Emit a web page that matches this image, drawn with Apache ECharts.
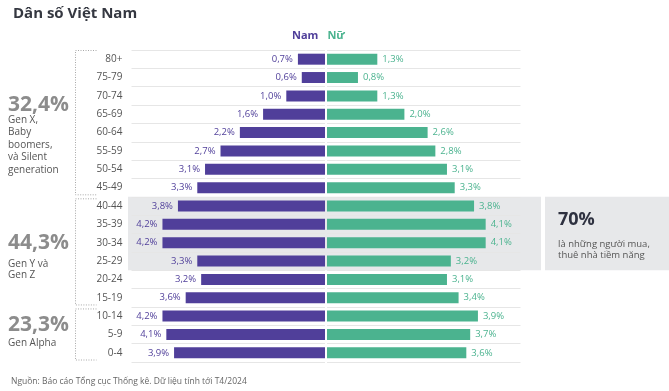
<!DOCTYPE html>
<html><head><meta charset="utf-8">
<script src="https://cdn.jsdelivr.net/npm/echarts@6/dist/echarts.min.js"></script>
<style>html,body{margin:0;padding:0;background:#fff}#c{width:669px;height:391px}</style>
</head><body><div id="c"></div>
<script>
var categories = ['80+','75-79','70-74','65-69','60-64','55-59','50-54','45-49','40-44','35-39','30-34','25-29','20-24','15-19','10-14','5-9','0-4'];
var male   = [0.7,0.6,1.0,1.6,2.2,2.7,3.1,3.3,3.8,4.2,4.2,3.3,3.2,3.6,4.2,4.1,3.9];
var female = [1.3,0.8,1.3,2.0,2.6,2.8,3.1,3.3,3.8,4.1,4.1,3.2,3.1,3.4,3.9,3.7,3.6];
var groups = [
  {from:'80+', to:'45-49', pct:'32,4%', text:'Gen X,\nBaby\nboomers,\nvà Silent\ngeneration'},
  {from:'40-44', to:'15-19', pct:'44,3%', text:'Gen Y và\nGen Z'},
  {from:'10-14', to:'0-4', pct:'23,3%', text:'Gen Alpha'}
];
var highlight = {from:'40-44', to:'25-29'};
var PURPLE = '#503f9a', GREEN = '#4bb38f';
var FONT = '"Open Sans", "Noto Sans", sans-serif';
function fmt(p){ return p.value.toFixed(1).replace('.', ',') + '%'; }

var chart = echarts.init(document.getElementById('c'));
var option = {
  animation:false,
  textStyle:{fontFamily:FONT},
  title:{text:'Dân số Việt Nam', left:8, top:1, textStyle:{fontSize:15, fontWeight:'bold', color:'#353841', fontFamily:FONT}},
  legend:{left:282, top:24, icon:'none', itemWidth:0, itemGap:4, selectedMode:false,
    data:[{name:'Nam', textStyle:{color:PURPLE}},{name:'Nữ', textStyle:{color:GREEN}}],
    textStyle:{fontSize:11, fontWeight:'bold', fontFamily:FONT}},
  grid:[
    {left:131.5, right:344, top:50, bottom:29},
    {left:327, right:148.5, top:50, bottom:29}
  ],
  xAxis:[
    {gridIndex:0, type:'value', min:0, max:5, inverse:true, show:false},
    {gridIndex:1, type:'value', min:0, max:5, show:false}
  ],
  yAxis:[
    {gridIndex:0, type:'category', data:categories, inverse:true,
     axisLine:{show:false}, axisTick:{show:false},
     axisLabel:{margin:9, fontSize:10, color:'#555', fontFamily:FONT},
     splitLine:{show:true, lineStyle:{color:'#e6e6e6', width:1}}},
    {gridIndex:1, type:'category', data:categories, inverse:true,
     axisLine:{show:false}, axisTick:{show:false}, axisLabel:{show:false},
     splitLine:{show:true, lineStyle:{color:'#e6e6e6', width:1}}}
  ],
  series:[
    {name:'Nam', type:'bar', xAxisIndex:0, yAxisIndex:0, data:male, barWidth:11, itemStyle:{color:PURPLE},
     label:{show:true, position:'left', distance:5, formatter:fmt, color:PURPLE, fontSize:9.5, fontFamily:FONT}},
    {name:'Nữ', type:'bar', xAxisIndex:1, yAxisIndex:1, data:female, barWidth:11, itemStyle:{color:GREEN},
     label:{show:true, position:'right', distance:5, formatter:fmt, color:GREEN, fontSize:9.5, fontFamily:FONT}}
  ]
};
chart.setOption(option);

var y0 = chart.convertToPixel({yAxisIndex:0}, categories[0]);
var y1 = chart.convertToPixel({yAxisIndex:0}, categories[1]);
var band = y1 - y0;
function topOf(c){ return chart.convertToPixel({yAxisIndex:0}, c) - band/2; }
function botOf(c){ return chart.convertToPixel({yAxisIndex:0}, c) + band/2; }

var g = [];
var hTop = topOf(highlight.from), hBot = botOf(highlight.to);
g.push({type:'rect', z:-10, shape:{x:128, y:hTop, width:541-128, height:hBot-hTop}, style:{fill:'#e7e8ea'}});
g.push({type:'rect', z:-10, shape:{x:545, y:hTop, width:669-545, height:hBot-hTop}, style:{fill:'#e7e8ea'}});
var my = (hTop + hBot)/2;
g.push({type:'text', x:558, y:my-14, style:{text:'70%', font:'bold 18px '+FONT, fill:'#2e3140', textVerticalAlign:'middle'}});
g.push({type:'text', x:558, y:my+5, style:{text:'là những người mua,\nthuê nhà tiềm năng', font:'9.5px '+FONT, fill:'#555', lineHeight:11, textVerticalAlign:'top'}});

groups.forEach(function(gr, i){
  var t = topOf(gr.from) + (i === 0 ? 0 : 1.5);
  var b = botOf(gr.to) - 1.5;
  var ls = {stroke:'#a8a8a8', lineWidth:1, lineDash:[1,1.5]};
  g.push({type:'polyline', shape:{points:[[96.5,t+0.5],[75.5,t+0.5],[75.5,b-0.5],[96.5,b-0.5]]}, style:Object.assign({fill:null}, ls)});
});
g.push({type:'text', x:8, y:105, style:{text:groups[0].pct, font:'bold 21px '+FONT, fill:'#8c8c8c', textVerticalAlign:'middle'}});
g.push({type:'text', x:8, y:114, style:{text:groups[0].text, font:'10px '+FONT, fill:'#555', lineHeight:12.4, textVerticalAlign:'top'}});
g.push({type:'text', x:8, y:243.5, style:{text:groups[1].pct, font:'bold 21px '+FONT, fill:'#8c8c8c', textVerticalAlign:'middle'}});
g.push({type:'text', x:8, y:258, style:{text:groups[1].text, font:'10px '+FONT, fill:'#555', lineHeight:11.5, textVerticalAlign:'top'}});
g.push({type:'text', x:8, y:325, style:{text:groups[2].pct, font:'bold 21px '+FONT, fill:'#8c8c8c', textVerticalAlign:'middle'}});
g.push({type:'text', x:8, y:338, style:{text:groups[2].text, font:'10px '+FONT, fill:'#555', textVerticalAlign:'top'}});
g.push({type:'text', x:11, y:382, style:{text:'Nguồn: Báo cáo Tổng cục Thống kê. Dữ liệu tính tới T4/2024', font:'8.5px '+FONT, fill:'#666', textVerticalAlign:'middle'}});
chart.setOption({graphic:{elements:g}});
</script></body></html>
